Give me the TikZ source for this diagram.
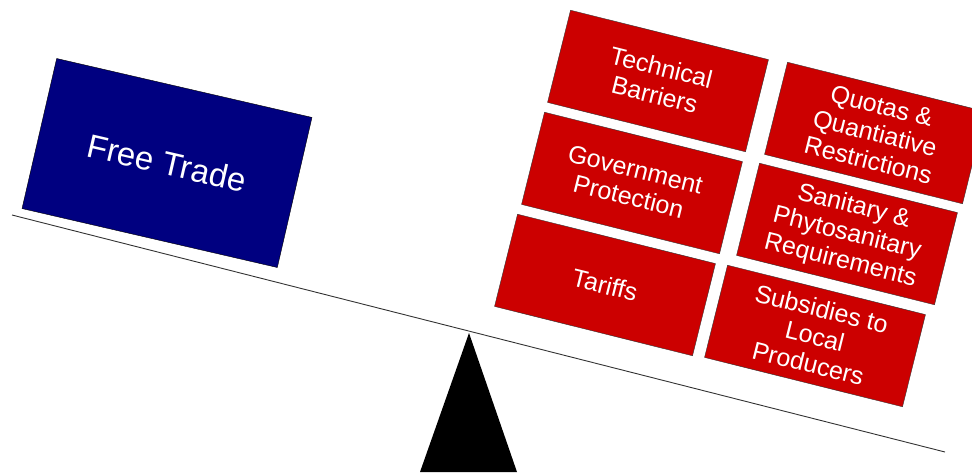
\documentclass[tikz,border=0pt]{standalone}
\usepackage{fontspec}
\setmainfont{Liberation Sans}
\definecolor{tradeblue}{RGB}{0,0,128}
\definecolor{barrierred}{RGB}{204,0,0}
\begin{document}
\begin{tikzpicture}[x=1pt,y=-1pt,
		freebox/.style={draw=black,fill=tradeblue,text=white,minimum width=262pt,minimum height=154pt,rotate=-13,font=\fontsize{33}{35}\selectfont,inner sep=0pt},
		barrier/.style={draw=black!80,fill=barrierred,text=white,minimum width=204pt,minimum height=95pt,rotate=-14,align=center,font=\fontsize{25}{28}\selectfont,inner sep=0pt}]
		\useasboundingbox (0,0) rectangle (972,472);
		% beam and pivot
		\coordinate (beamL) at (12,215);
		\coordinate (beamR) at (945,452);
		\coordinate (pivot) at (469,333);
		\draw[line width=0.9pt,black!80] (beamL) -- (beamR);
		\fill (pivot) -- (420,472) -- (517,472) -- cycle;
		% left side
		\node[freebox] (free) at (167,163) {Free Trade};
		% right side
		\node[barrier] (tech) at (658,81) {Technical\\Barriers};
		\node[barrier] (quota) at (875,133) {Quotas \&\\Quantiative\\Restrictions};
		\node[barrier] (gov) at (632,183) {Government\\Protection};
		\node[barrier] (sanit) at (847,234) {Sanitary \&\\Phytosanitary\\Requirements};
		\node[barrier] (tariff) at (605,285) {Tariffs};
		\node[barrier] (subsid) at (815,336) {Subsidies to\\Local\\Producers};
	\end{tikzpicture}
\end{document}
